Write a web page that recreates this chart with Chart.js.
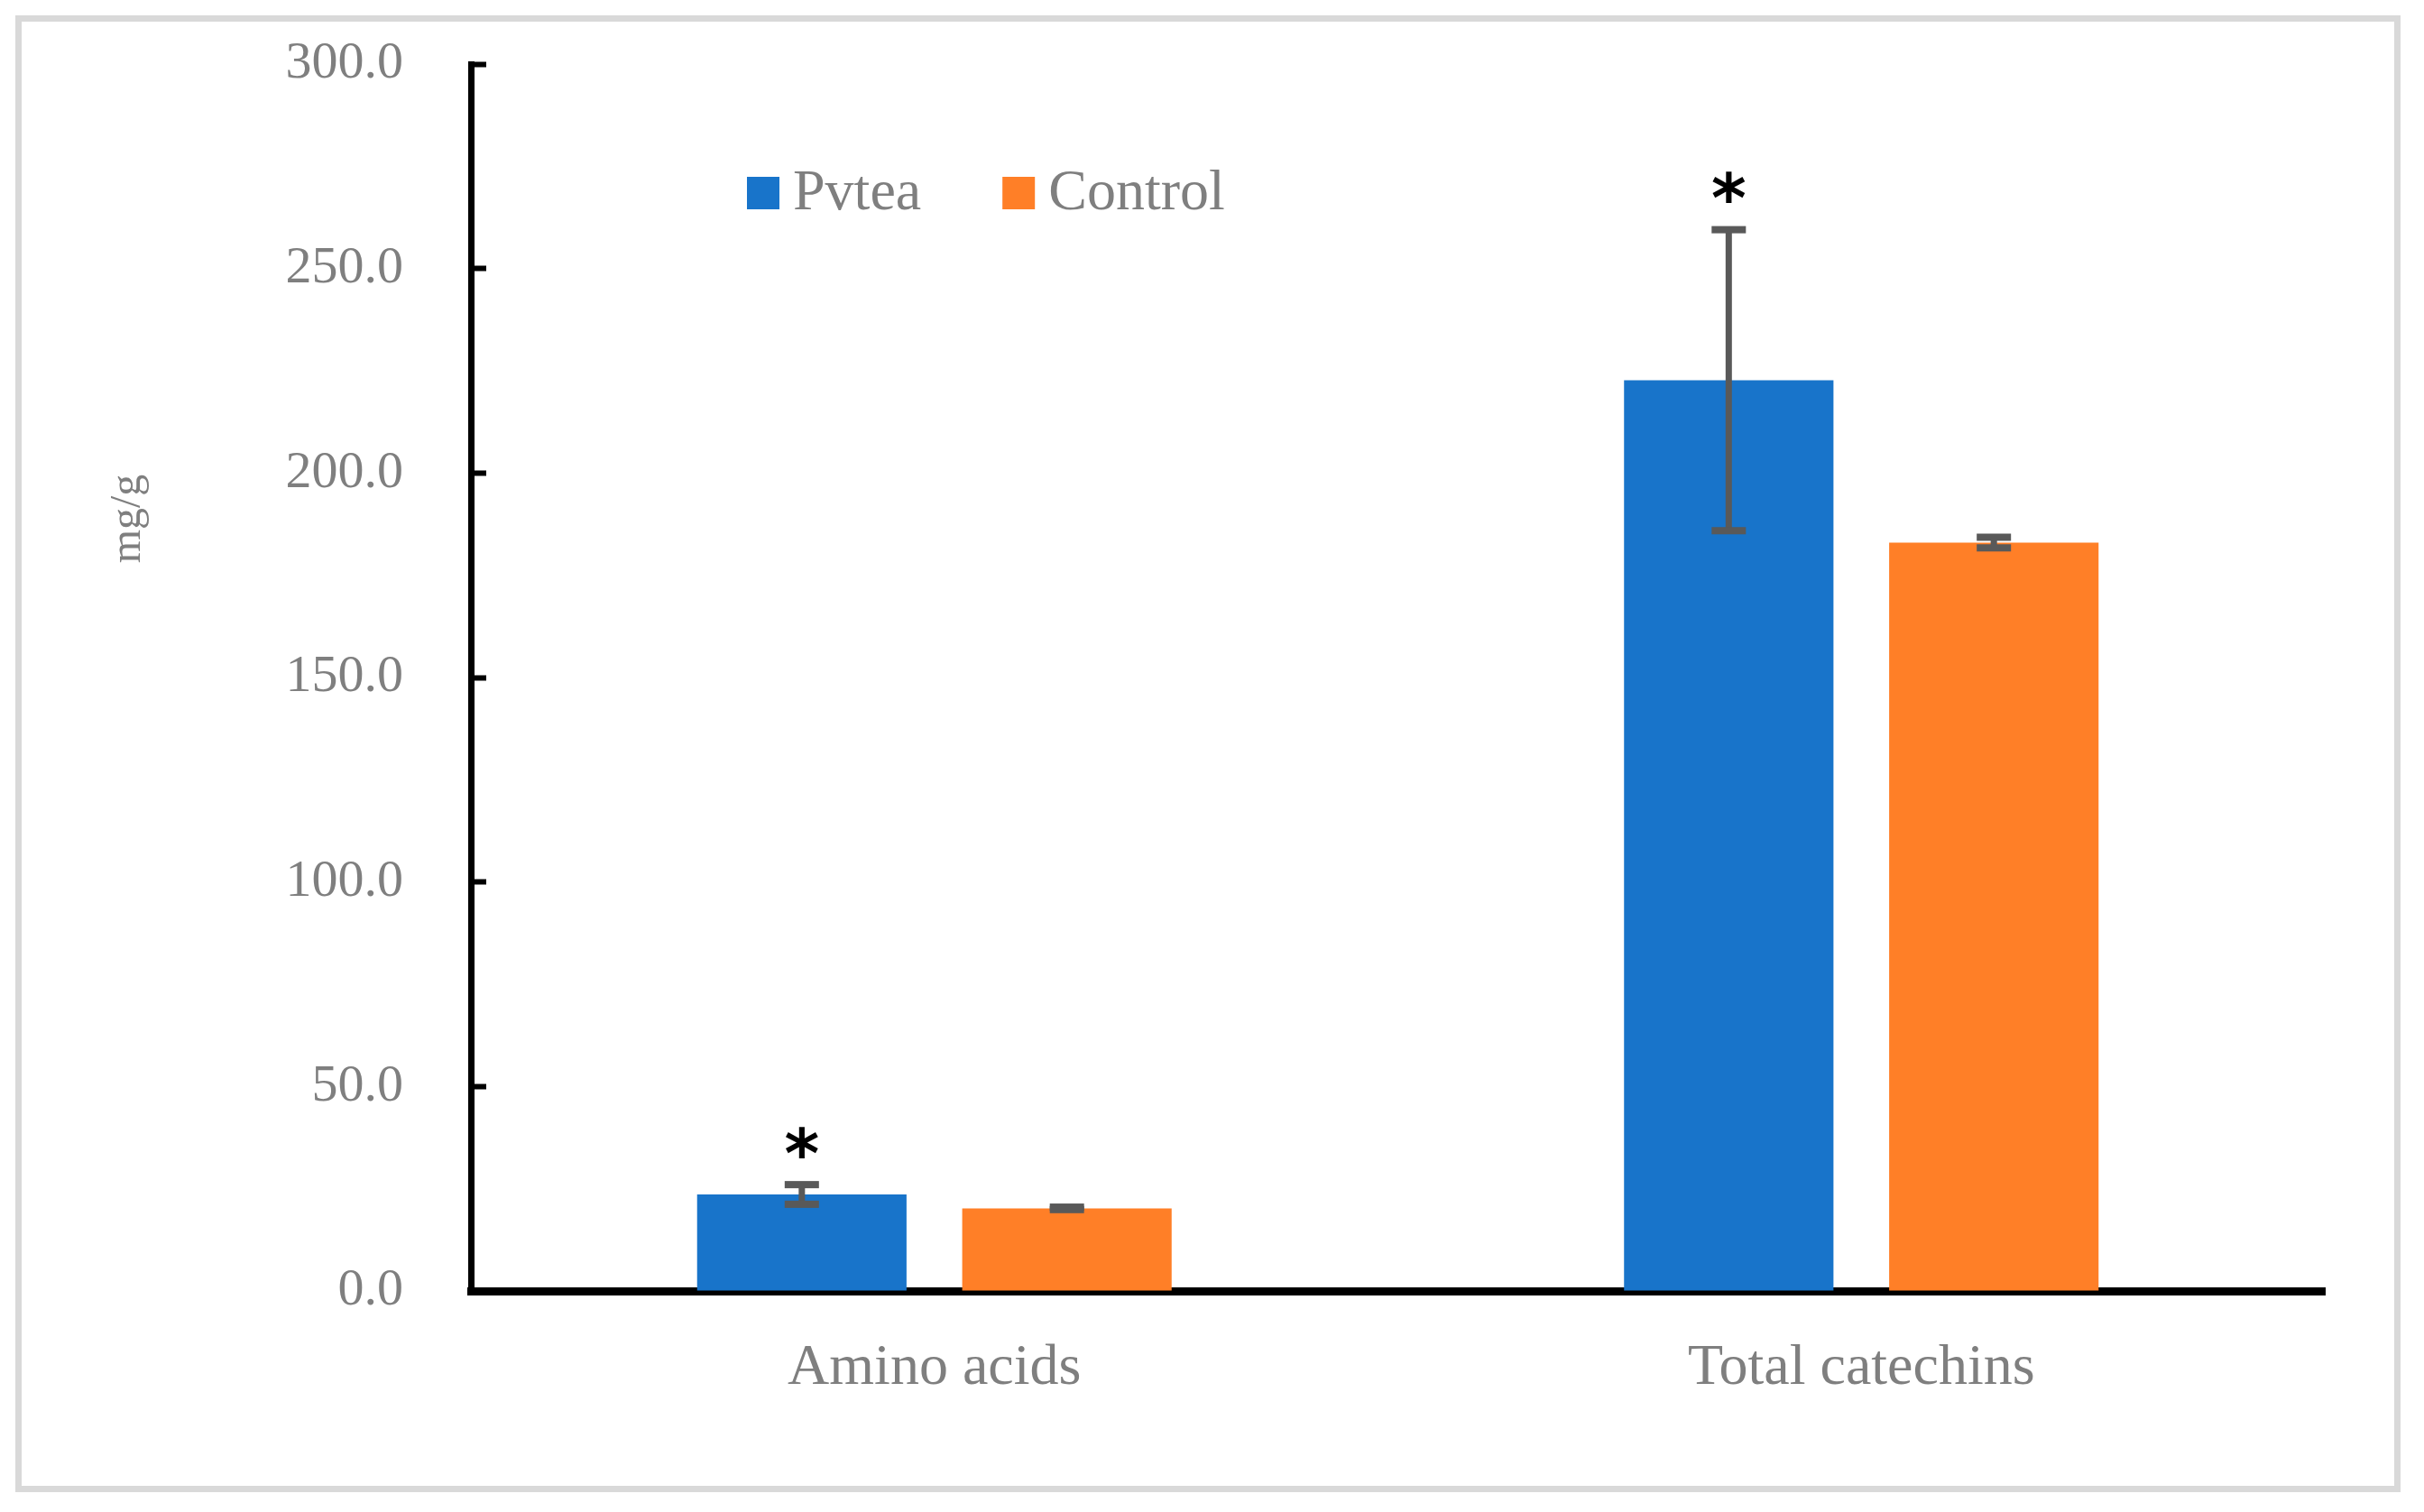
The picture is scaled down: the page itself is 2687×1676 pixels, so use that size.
<!DOCTYPE html>
<html>
<head>
<meta charset="utf-8">
<script src="https://cdn.jsdelivr.net/npm/chart.js@4.4.0/dist/chart.umd.min.js"></script>
<style>
  html, body { margin: 0; padding: 0; background: #fff; }
  #wrap { width: 2687px; height: 1676px; }
</style>
</head>
<body>
<div id="wrap"><canvas id="myChart" width="2687" height="1676"></canvas></div>
<script>
var categories = ["Amino acids", "Total catechins"];
var seriesNames = ["Pvtea", "Control"];
var pvteaValues = [23.6, 222.7];
var controlValues = [20.2, 183.0];
var pvteaErrors = [2.4, 36.8];
var controlErrors = [0.3, 1.3];
var pvteaSignificant = [true, true];
var controlSignificant = [false, false];
var yTicks = [0, 50, 100, 150, 200, 250, 300];
var yTitle = "mg/g";

var blue = "#1874CA";
var orange = "#FF7F27";
var gray = "#7F7F7F";
var serif = '"Liberation Serif", "Times New Roman", serif';

// error bars + significance stars, drawn from the bar elements
var errorBars = {
  id: "errorBars",
  afterDatasetsDraw(chart) {
    var ctx = chart.ctx;
    var y = chart.scales.y;
    ctx.save();
    chart.data.datasets.forEach((ds, i) => {
      var meta = chart.getDatasetMeta(i);
      meta.data.forEach((bar, j) => {
        var v = ds.data[j];
        var e = ds.errors[j];
        var top = y.getPixelForValue(v + e);
        var bot = y.getPixelForValue(v - e);
        ctx.fillStyle = "#595959";
        ctx.fillRect(bar.x - 3.5, top, 7, bot - top);
        ctx.fillRect(bar.x - 19, top - 4, 38, 8);
        ctx.fillRect(bar.x - 19, bot - 4, 38, 8);
        if (ds.significant[j]) {
          ctx.fillStyle = "#000";
          ctx.font = 'bold 74px "DejaVu Sans", sans-serif';
          ctx.textAlign = "center";
          ctx.textBaseline = "alphabetic";
          var m = ctx.measureText("*");
          var cy = top - 47;
          ctx.fillText("*", bar.x, cy + (m.actualBoundingBoxAscent - m.actualBoundingBoxDescent) / 2);
        }
      });
    });
    ctx.restore();
  },
};

// frame, legend and rotated axis title
var decorations = {
  id: "decorations",
  beforeDraw(chart) {
    var ctx = chart.ctx;
    ctx.save();
    ctx.fillStyle = "#fff";
    ctx.fillRect(0, 0, chart.width, chart.height);
    ctx.strokeStyle = "#D9D9D9";
    ctx.lineWidth = 7;
    ctx.strokeRect(20.5, 20.5, 2637, 1630);
    ctx.restore();
  },
  afterDraw(chart) {
    var ctx = chart.ctx;
    var area = chart.chartArea;
    ctx.save();
    ctx.font = "64px " + serif;
    ctx.textAlign = "left";
    ctx.textBaseline = "alphabetic";
    var x = area.left + 306;
    var boxTop = area.top + 125;
    chart.data.datasets.forEach((ds) => {
      ctx.fillStyle = ds.backgroundColor;
      ctx.fillRect(x, boxTop, 36, 36);
      ctx.fillStyle = gray;
      ctx.fillText(ds.label, x + 51, boxTop + 36);
      x += 51 + ctx.measureText(ds.label).width + 90;
    });

    ctx.translate(142, 575);
    ctx.rotate(-Math.PI / 2);
    ctx.font = "48px " + serif;
    ctx.textAlign = "center";
    ctx.textBaseline = "middle";
    ctx.fillStyle = gray;
    ctx.fillText(yTitle, 0, 0);
    ctx.restore();
  },
};

var ctx = document.getElementById("myChart").getContext("2d");
var newChart = new Chart(ctx, {
  type: "bar",
  data: {
    labels: categories,
    datasets: [
      {
        label: seriesNames[0],
        data: pvteaValues,
        errors: pvteaErrors,
        significant: pvteaSignificant,
        backgroundColor: blue,
        categoryPercentage: 0.572,
        barPercentage: 0.79,
      },
      {
        label: seriesNames[1],
        data: controlValues,
        errors: controlErrors,
        significant: controlSignificant,
        backgroundColor: orange,
        categoryPercentage: 0.572,
        barPercentage: 0.79,
      },
    ],
  },
  options: {
    responsive: false,
    animation: false,
    devicePixelRatio: 1,
    layout: {
      padding: { top: 71, right: 110, bottom: 0, left: 0 },
    },
    plugins: {
      legend: { display: false },
      tooltip: { enabled: false },
    },
    scales: {
      x: {
        z: 1,
        grid: { display: false },
        border: { display: true, color: "#000", width: 9 },
        ticks: {
          color: gray,
          font: { family: serif, size: 64 },
          padding: 40,
        },
        afterFit: (scale) => {
          scale.height = 245;
        },
      },
      y: {
        z: 1,
        min: 0,
        max: 300,
        afterBuildTicks: (scale) => {
          scale.ticks = yTicks.map((v) => ({ value: v }));
        },
        grid: {
          drawOnChartArea: false,
          drawTicks: true,
          tickLength: -17,
          tickWidth: 6,
          tickColor: "#000",
        },
        border: { display: true, color: "#000", width: 7 },
        ticks: {
          color: gray,
          font: { family: serif, size: 58 },
          padding: 92,
          callback: (v) => Number(v).toFixed(1),
        },
        afterFit: (scale) => {
          scale.width = 522;
          scale.paddingTop = 35;
          scale.paddingBottom = 35;
        },
      },
    },
  },
  plugins: [decorations, errorBars],
});
</script>
</body>
</html>
